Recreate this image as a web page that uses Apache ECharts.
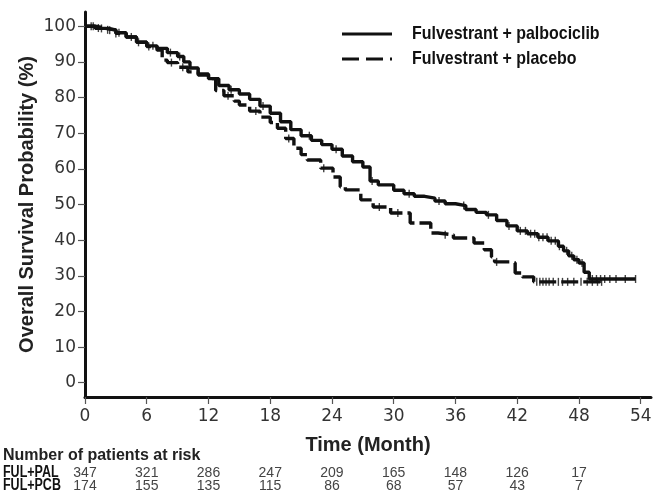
<!DOCTYPE html>
<html><head><meta charset="utf-8">
<script src="https://cdn.jsdelivr.net/npm/echarts@6/dist/echarts.min.js"></script>
<style>html,body{margin:0;padding:0;background:#fff}#c{width:656px;height:497px}</style>
</head><body><div id="c"></div>
<script>
// Kaplan-Meier step points (month, survival %)
const palTime = [0, 1, 2, 3, 4, 5, 6, 7, 8, 9, 9.6, 10.2, 11, 12, 13, 14, 15, 16, 17, 18, 19, 20, 21, 22, 23, 24, 25, 26, 27, 27.7, 28.5, 30, 31, 32, 33, 34, 35, 36, 37, 38, 39, 40, 41, 42, 43, 44, 45, 46, 46.5, 47, 47.5, 48, 48.5, 49, 53.5];
const palSurv = [100, 99.4, 98.9, 98.2, 97, 95.5, 94.5, 93.8, 92.6, 91.5, 90, 88.3, 86.6, 85.3, 83.4, 82.2, 81, 79.5, 77.6, 75.6, 73.2, 71, 69.3, 68, 66.8, 65.5, 63.6, 62, 60.5, 56.6, 55.5, 54, 53, 52.3, 51.8, 51, 50.2, 49.7, 48.6, 47.8, 47.1, 45.5, 44, 42.6, 41.8, 40.8, 39.8, 38.3, 37, 35.6, 34.5, 33.6, 31, 29.1, 29.1];
const pcbTime = [0, 1, 2, 3, 4, 5, 6, 7, 7.5, 8, 9, 10, 11, 12, 12.7, 13.5, 14.5, 15, 16, 17, 18, 18.7, 19.5, 20.3, 21, 21.6, 22.9, 24.1, 24.8, 25.3, 26.8, 28, 29.7, 31.6, 33.6, 34.3, 35.8, 37.8, 38.8, 39.5, 39.8, 41.5, 41.8, 42.5, 43.6, 50.2];
const pcbSurv = [100, 99.5, 99, 98, 97, 95.5, 94.3, 93.3, 90.5, 89.8, 88.5, 87.2, 86.3, 85.3, 82, 80.5, 79, 77.9, 76.2, 74.5, 73, 71.4, 68.5, 65.8, 64, 62.5, 60.2, 57.7, 55, 54.1, 51.3, 49.3, 47.6, 44.8, 42, 41.5, 40.6, 39.2, 37.3, 35.3, 33.9, 33.6, 30.8, 29.7, 28.3, 28.3];
// censoring times (months)
const palCensor = [0.8, 1.6, 2.4, 3.3, 5.2, 6.6, 8.3, 9.2, 14.2, 17.3, 21.8, 24.4, 27.9, 31.5, 34.4, 36.8, 39.2, 41.2, 42.3, 42.8, 43.3, 43.7, 44.1, 44.5, 44.9, 45.3, 45.7, 46.1, 46.8, 47.3, 47.8, 48.3, 49.3, 49.7, 50.1, 50.5, 51.0, 51.6, 52.5, 53.5];
const pcbCensor = [0.6, 1.3, 2.2, 3.0, 4.5, 6.2, 8.4, 9.5, 13.9, 16.6, 19.8, 23.2, 28.6, 30.4, 35.0, 40.0, 43.9, 44.2, 44.5, 44.8, 45.1, 45.5, 46.0, 46.4, 46.9, 47.5, 48.2, 48.8, 49.3, 49.8, 50.2];
const xTicks = [0, 6, 12, 18, 24, 30, 36, 42, 48, 54];
const yTicks = [0, 10, 20, 30, 40, 50, 60, 70, 80, 90, 100];
const riskTimes = [0, 6, 12, 18, 24, 30, 36, 42, 48];
const riskPAL = [347, 321, 286, 247, 209, 165, 148, 126, 17];
const riskPCB = [174, 155, 135, 115, 86, 68, 57, 43, 7];
const seriesNames = ['Fulvestrant + palbociclib', 'Fulvestrant + placebo'];
const riskRowNames = ['FUL+PAL', 'FUL+PCB'];

function zip(t, s) { return t.map((v, i) => [v, s[i]]); }
function at(t, s, x) { let v = s[0]; for (let i = 0; i < t.length; i++) { if (t[i] <= x) v = s[i]; } return v; }

const chart = echarts.init(document.getElementById('c'), null, { renderer: 'canvas' });
const sans = '"Liberation Sans", Arial, Helvetica, sans-serif';
const tickFont = '"DejaVu Sans", "Liberation Sans", sans-serif';
const tickSym = { symbol: 'rect', symbolSize: [1.4, 8] };

chart.setOption({
  animation: false,
  grid: { left: 85, right: 5, top: 12, bottom: 100, containLabel: false },
  xAxis: {
    type: 'value', min: 0, max: 55, interval: 6,
    name: 'Time (Month)', nameLocation: 'middle', nameGap: 38,
    nameTextStyle: { fontFamily: sans, fontWeight: 'bold', fontSize: 20, color: '#222' },
    axisLine: { show: true, onZero: false, lineStyle: { color: '#111', width: 3 } },
    axisTick: { show: true, length: 7, lineStyle: { color: '#555', width: 1.2 } },
    axisLabel: { fontFamily: tickFont, fontSize: 17, color: '#333', margin: 11, showMaxLabel: false,
      formatter: v => xTicks.indexOf(v) >= 0 ? String(v) : '' },
    splitLine: { show: false }
  },
  yAxis: {
    type: 'value', min: -4, max: 104,
    name: 'Overall Survival Probability (%)', nameLocation: 'middle', nameGap: 48, nameMoveOverlap: false,
    nameTextStyle: { fontFamily: sans, fontWeight: 'bold', fontSize: 20, color: '#222' },
    axisLine: { show: true, onZero: false, lineStyle: { color: '#111', width: 3 } },
    axisTick: { show: true, length: 7, customValues: yTicks, lineStyle: { color: '#555', width: 1.2 } },
    axisLabel: { fontFamily: tickFont, fontSize: 17, color: '#333', margin: 9, customValues: yTicks },
    splitLine: { show: false }
  },
  series: [
    { name: seriesNames[0], type: 'line', step: 'end', symbol: 'none', data: zip(palTime, palSurv),
      lineStyle: { color: '#111', width: 3.4 } },
    { name: seriesNames[1], type: 'line', step: 'end', symbol: 'none', data: zip(pcbTime, pcbSurv),
      lineStyle: { color: '#111', width: 3.4, type: [17, 5] } },
    { type: 'scatter', ...tickSym, itemStyle: { color: '#111' }, silent: true,
      data: palCensor.map(t => [t, at(palTime, palSurv, t)]) },
    { type: 'scatter', ...tickSym, itemStyle: { color: '#111' }, silent: true,
      data: pcbCensor.map(t => [t, at(pcbTime, pcbSurv, t)]) }
  ]
});

// legend and at-risk table (positions from the axis scale)
const g = [];
g.push({ type: 'line', shape: { x1: 342, y1: 34, x2: 392, y2: 34 }, style: { stroke: '#111', lineWidth: 3.2 } });
g.push({ type: 'line', shape: { x1: 342, y1: 59, x2: 392, y2: 59 }, style: { stroke: '#111', lineWidth: 3.2, lineDash: [17, 7] } });
g.push({ type: 'text', x: 412, y: 34, scaleX: 0.84, style: { text: seriesNames[0], font: 'bold 19px ' + sans, fill: '#111', textVerticalAlign: 'middle' } });
g.push({ type: 'text', x: 412, y: 59, scaleX: 0.84, style: { text: seriesNames[1], font: 'bold 19px ' + sans, fill: '#111', textVerticalAlign: 'middle' } });
g.push({ type: 'text', x: 3, y: 456, style: { text: 'Number of patients at risk', font: 'bold 16px ' + sans, fill: '#222', textVerticalAlign: 'middle' } });
g.push({ type: 'text', x: 3, y: 473, scaleX: 0.78, style: { text: riskRowNames[0], font: 'bold 16px ' + sans, fill: '#111', textVerticalAlign: 'middle' } });
g.push({ type: 'text', x: 3, y: 486, scaleX: 0.78, style: { text: riskRowNames[1], font: 'bold 16px ' + sans, fill: '#111', textVerticalAlign: 'middle' } });
riskTimes.forEach((t, i) => {
  const px = chart.convertToPixel({ xAxisIndex: 0 }, t);
  g.push({ type: 'text', x: px, y: 473, style: { text: String(riskPAL[i]), font: '14px ' + sans, fill: '#444', textAlign: 'center', textVerticalAlign: 'middle' } });
  g.push({ type: 'text', x: px, y: 486, style: { text: String(riskPCB[i]), font: '14px ' + sans, fill: '#444', textAlign: 'center', textVerticalAlign: 'middle' } });
});
chart.setOption({ graphic: g });
</script></body></html>
